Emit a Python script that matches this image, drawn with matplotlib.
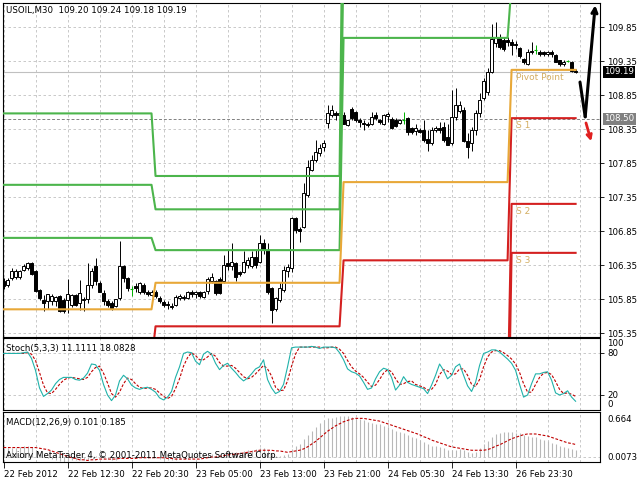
import matplotlib
matplotlib.use("Agg")
import matplotlib.pyplot as plt
import numpy as np

plt.rcParams['font.family'] = 'DejaVu Sans'

# ---- USOIL M30 bars (22 Feb 2012 .. 27 Feb 2012) ----
opens = [106.12, 106.06, 106.16, 106.18, 106.18, 106.28, 106.31, 106.38,
         106.26, 105.98, 105.84, 105.82, 105.82, 105.82, 105.89, 105.84,
         105.83, 105.77, 105.91, 105.79, 105.83, 105.85, 106.06, 106.33,
         106.08, 105.94, 105.82, 105.79, 105.75, 105.87, 106.33, 106.16,
         106.00, 106.04, 105.96, 106.06, 105.96, 105.91, 105.95, 105.86,
         105.81, 105.78, 105.75, 105.77, 105.87, 105.88, 105.87, 105.95,
         105.92, 105.95, 105.88, 105.97, 106.12, 106.11, 106.15, 106.11,
         106.38, 106.33, 106.38, 106.25, 106.25, 106.35, 106.33, 106.47,
         106.40, 106.67, 106.57, 106.01, 105.71, 105.84, 105.99, 106.27,
         106.30, 107.04, 106.88, 106.91, 107.38, 107.75, 107.89, 108.00,
         108.09, 108.44, 108.56, 108.58, 108.56, 108.56, 108.41, 108.65,
         108.60, 108.49, 108.44, 108.42, 108.43, 108.56, 108.49, 108.43,
         108.54, 108.50, 108.49, 108.44, 108.49, 108.51, 108.36, 108.32,
         108.34, 108.34, 108.20, 108.14, 108.34, 108.36, 108.38, 108.24,
         108.14, 108.53, 108.62, 108.63, 108.17, 108.14, 108.34, 108.58,
         108.80, 108.90, 109.19, 109.62, 109.70, 109.66, 109.66, 109.63,
         109.60, 109.54, 109.38, 109.31, 109.50, 109.51, 109.49, 109.48,
         109.45, 109.48, 109.44, 109.36, 109.30, 109.35, 109.34, 109.20]
highs = [106.16, 106.16, 106.31, 106.29, 106.28, 106.37, 106.40, 106.40,
         106.28, 106.00, 105.91, 105.93, 105.92, 105.90, 105.91, 105.87,
         106.14, 105.93, 105.93, 106.13, 105.88, 106.38, 106.30, 106.45,
         106.12, 105.98, 105.85, 105.82, 105.85, 106.70, 106.35, 106.18,
         106.05, 106.08, 106.10, 106.08, 105.98, 105.98, 105.98, 105.89,
         105.83, 105.82, 105.79, 105.91, 105.92, 105.91, 105.97, 105.98,
         105.97, 105.97, 105.97, 106.18, 106.23, 106.13, 106.18, 106.50,
         106.57, 106.67, 106.40, 106.27, 106.55, 106.47, 106.55, 106.57,
         106.79, 106.74, 106.67, 106.03, 105.88, 106.10, 106.33, 106.36,
         107.06, 107.06, 106.91, 107.56, 107.89, 107.97, 108.19, 108.13,
         108.19, 108.70, 108.70, 108.62, 108.60, 108.60, 108.49, 108.67,
         108.62, 108.51, 108.48, 108.45, 108.60, 108.60, 108.50, 108.57,
         108.60, 108.53, 108.51, 108.50, 108.60, 108.53, 108.38, 108.43,
         108.36, 108.48, 108.34, 108.38, 108.40, 108.46, 108.46, 108.43,
         108.92, 108.95, 108.76, 108.68, 108.29, 108.38, 108.63, 108.88,
         109.10, 109.25, 109.90, 109.93, 109.74, 109.70, 109.70, 109.68,
         109.65, 109.56, 109.40, 109.52, 109.63, 109.58, 109.51, 109.50,
         109.50, 109.51, 109.46, 109.37, 109.36, 109.37, 109.35, 109.24]
lows = [106.00, 106.03, 106.13, 106.14, 106.15, 106.27, 106.28, 106.20,
        105.96, 105.84, 105.67, 105.70, 105.77, 105.75, 105.66, 105.65,
        105.64, 105.73, 105.75, 105.69, 105.68, 105.79, 106.02, 106.06,
        105.96, 105.76, 105.74, 105.69, 105.73, 105.84, 106.10, 105.97,
        105.89, 105.95, 105.93, 105.92, 105.90, 105.89, 105.86, 105.80,
        105.73, 105.70, 105.70, 105.75, 105.83, 105.84, 105.85, 105.88,
        105.86, 105.87, 105.86, 105.93, 106.08, 105.91, 105.92, 106.08,
        106.28, 106.28, 106.11, 106.19, 106.23, 106.30, 106.30, 106.30,
        106.38, 106.52, 105.93, 105.50, 105.68, 105.81, 105.96, 106.18,
        106.25, 106.82, 106.69, 106.89, 107.35, 107.73, 107.87, 107.96,
        108.02, 108.37, 108.52, 108.48, 108.52, 108.42, 108.39, 108.49,
        108.46, 108.38, 108.34, 108.38, 108.41, 108.48, 108.43, 108.41,
        108.46, 108.35, 108.38, 108.42, 108.43, 108.26, 108.28, 108.26,
        108.29, 108.16, 108.02, 108.11, 108.30, 108.29, 108.16, 108.11,
        108.11, 108.48, 108.58, 108.16, 107.92, 108.02, 108.26, 108.53,
        108.78, 108.85, 109.17, 109.55, 109.52, 109.50, 109.57, 109.44,
        109.53, 109.40, 109.30, 109.29, 109.46, 109.46, 109.43, 109.43,
        109.43, 109.41, 109.33, 109.28, 109.28, 109.33, 109.19, 109.18]
closes = [106.04, 106.13, 106.27, 106.26, 106.27, 106.33, 106.38, 106.22,
          105.97, 105.86, 105.80, 105.92, 105.90, 105.88, 105.67, 105.67,
          105.92, 105.91, 105.77, 105.94, 105.85, 106.06, 106.26, 106.11,
          105.96, 105.82, 105.76, 105.72, 105.85, 106.33, 106.16, 106.01,
          106.00, 106.02, 106.08, 105.96, 105.92, 105.95, 105.89, 105.82,
          105.76, 105.76, 105.73, 105.88, 105.89, 105.86, 105.95, 105.92,
          105.95, 105.89, 105.96, 106.15, 106.18, 105.94, 105.94, 106.35,
          106.33, 106.40, 106.18, 106.22, 106.40, 106.42, 106.47, 106.35,
          106.67, 106.57, 105.96, 105.69, 105.86, 106.01, 106.28, 106.32,
          107.04, 106.87, 106.85, 107.41, 107.79, 107.89, 108.01, 108.07,
          108.14, 108.58, 108.63, 108.55, 108.58, 108.43, 108.48, 108.51,
          108.48, 108.46, 108.43, 108.41, 108.53, 108.51, 108.45, 108.55,
          108.57, 108.37, 108.40, 108.48, 108.49, 108.31, 108.31, 108.36,
          108.30, 108.19, 108.14, 108.34, 108.36, 108.34, 108.19, 108.12,
          108.53, 108.70, 108.70, 108.17, 108.09, 108.34, 108.58, 108.78,
          109.05, 109.19, 109.68, 109.70, 109.55, 109.52, 109.63, 109.58,
          109.59, 109.42, 109.33, 109.49, 109.49, 109.51, 109.45, 109.45,
          109.48, 109.45, 109.34, 109.30, 109.34, 109.35, 109.21, 109.19]

# ---- daily pivot levels ----
day_start = [0, 38, 85, 127]
pivot = [105.70, 106.09, 107.57, 109.22]
r1 = [106.75, 106.57, 109.69, 110.48]
r2 = [107.53, 107.17, 110.84, 111.19]
r3 = [108.58, 107.66, 112.96, 112.45]
s1 = [104.92, 105.45, 106.42, 108.51]
s2 = [103.87, 104.97, 104.30, 107.25]
s3 = [103.09, 104.33, 103.15, 106.53]

# ---- Stochastic(5,3,3) ----
stoch_main = [79, 79, 79, 79, 79, 80, 81, 72, 55, 30, 18, 22, 27, 36, 42, 45,
              45, 45, 42, 41, 44, 51, 64, 63, 55, 35, 20, 12, 20, 40, 48, 43,
              34, 30, 28, 30, 31, 28, 24, 16, 13, 17, 25, 45, 60, 79, 81, 80,
              68, 63, 78, 82, 78, 65, 56, 62, 65, 58, 52, 45, 40, 44, 50, 57,
              60, 70, 42, 30, 22, 25, 35, 60, 87, 88, 88, 88, 88, 89, 88, 86,
              88, 88, 88, 87, 80, 70, 57, 53, 51, 47, 38, 28, 30, 43, 53, 58,
              56, 45, 27, 34, 46, 38, 35, 33, 31, 29, 22, 34, 48, 64, 55, 43,
              48, 60, 64, 48, 33, 25, 38, 62, 79, 81, 84, 84, 81, 76, 71, 65,
              55, 35, 17, 20, 36, 50, 50, 52, 53, 41, 23, 20, 22, 26, 17, 11.11]
stoch_signal = [79, 79, 79, 79, 79, 79, 80, 78, 69, 52, 34, 23, 22, 28, 35, 41,
                44, 45, 44, 43, 42, 45, 53, 59, 61, 51, 37, 22, 17, 24, 36, 44,
                42, 36, 31, 29, 30, 30, 28, 23, 18, 15, 18, 29, 43, 61, 73, 80,
                76, 70, 70, 74, 79, 75, 66, 61, 61, 62, 58, 52, 46, 43, 45, 50,
                56, 62, 57, 47, 31, 26, 27, 40, 61, 78, 88, 88, 88, 88, 88, 88,
                87, 87, 88, 88, 85, 79, 69, 60, 54, 50, 45, 38, 32, 34, 42, 51,
                56, 53, 43, 35, 36, 39, 40, 35, 33, 31, 27, 28, 35, 49, 56, 54,
                49, 50, 57, 57, 48, 35, 32, 42, 60, 74, 81, 83, 83, 80, 76, 71,
                64, 52, 36, 24, 24, 35, 45, 51, 52, 49, 39, 28, 22, 23, 21, 18.08]

# ---- MACD(12,26,9) ----
macd_main = [0.14, 0.13, 0.13, 0.14, 0.15, 0.16, 0.16, 0.15, 0.10, 0.05, 0.01, -0.02, -0.03, -0.04, -0.06, -0.07,
             -0.06, -0.05, -0.05, -0.04, -0.04, -0.03, 0.00, 0.01, 0.00, -0.02, -0.03, -0.04, -0.04, -0.01, 0.00, 0.00,
             0.00, 0.00, 0.00, 0.00, -0.01, -0.01, -0.02, -0.03, -0.04, -0.05, -0.05, -0.04, -0.03, -0.02, -0.01, -0.01,
             0.00, 0.00, 0.01, 0.03, 0.04, 0.03, 0.03, 0.05, 0.06, 0.08, 0.08, 0.08, 0.09, 0.10, 0.11, 0.12,
             0.13, 0.14, 0.10, 0.04, 0.02, 0.01, 0.03, 0.05, 0.12, 0.16, 0.19, 0.26, 0.33, 0.39, 0.45, 0.50,
             0.55, 0.57, 0.58, 0.59, 0.60, 0.60, 0.60, 0.59, 0.58, 0.56, 0.54, 0.52, 0.50, 0.49, 0.48, 0.46,
             0.44, 0.42, 0.39, 0.37, 0.35, 0.33, 0.30, 0.28, 0.25, 0.22, 0.19, 0.17, 0.16, 0.15, 0.13, 0.11,
             0.10, 0.11, 0.12, 0.10, 0.07, 0.06, 0.08, 0.13, 0.19, 0.24, 0.30, 0.34, 0.36, 0.37, 0.37, 0.37,
             0.36, 0.35, 0.33, 0.31, 0.30, 0.29, 0.27, 0.25, 0.23, 0.21, 0.19, 0.17, 0.15, 0.13, 0.115, 0.101]
macd_signal = [0.14, 0.14, 0.14, 0.14, 0.14, 0.14, 0.14, 0.14, 0.14, 0.13, 0.12, 0.11, 0.09, 0.07, 0.05, 0.03,
               0.01, -0.01, -0.02, -0.04, -0.04, -0.05, -0.04, -0.04, -0.03, -0.03, -0.03, -0.03, -0.03, -0.02, -0.02, -0.02,
               -0.02, -0.02, -0.01, -0.01, -0.01, -0.01, -0.01, -0.01, -0.01, -0.02, -0.02, -0.03, -0.03, -0.03, -0.03, -0.03,
               -0.03, -0.03, -0.02, -0.01, 0.00, 0.00, 0.01, 0.02, 0.03, 0.04, 0.04, 0.05, 0.06, 0.07, 0.08, 0.09,
               0.10, 0.10, 0.10, 0.10, 0.09, 0.09, 0.08, 0.07, 0.08, 0.09, 0.10, 0.12, 0.15, 0.19, 0.23, 0.28,
               0.33, 0.38, 0.42, 0.46, 0.49, 0.52, 0.54, 0.56, 0.57, 0.57, 0.57, 0.56, 0.55, 0.54, 0.53, 0.51,
               0.49, 0.47, 0.45, 0.43, 0.41, 0.39, 0.37, 0.35, 0.33, 0.30, 0.28, 0.25, 0.23, 0.21, 0.19, 0.17,
               0.15, 0.14, 0.13, 0.12, 0.11, 0.10, 0.10, 0.10, 0.10, 0.11, 0.13, 0.16, 0.18, 0.21, 0.24, 0.27,
               0.29, 0.31, 0.33, 0.34, 0.34, 0.34, 0.33, 0.32, 0.31, 0.29, 0.27, 0.25, 0.23, 0.21, 0.20, 0.185]

time_ticks = [0, 16, 32, 48, 64, 80, 96, 112, 128]
time_labels = ['22 Feb 2012', '22 Feb 12:30', '22 Feb 20:30', '23 Feb 05:00', '23 Feb 13:00',
               '23 Feb 21:00', '24 Feb 05:30', '24 Feb 13:30', '26 Feb 23:30']
price_ticks = [105.35, 105.85, 106.35, 106.85, 107.35, 107.85, 108.35, 108.85, 109.35, 109.85]
bid = 109.19
level_line = 108.50

# hand drawn arrows on the chart (bar index, price)
black_arrow_x = [144.1, 145.4, 147.9]
black_arrow_y = [109.04, 108.53, 110.17]
red_arrow_x = [145.6, 146.9]
red_arrow_y = [108.44, 108.17]

W, H = 640, 480
FS = 6.2
GRID = '#c0c0c0'


def rect(top, bottom, left=3, right=600):
    return [left / W, 1 - bottom / H, (right - left) / W, (bottom - top) / H]


fig = plt.figure(figsize=(6.4, 4.8), dpi=100)
ax = fig.add_axes(rect(3, 337))
ax_st = fig.add_axes(rect(338, 410), sharex=ax)
ax_md = fig.add_axes(rect(412, 462), sharex=ax)

x = np.arange(len(closes))
o, h, l, c = map(np.array, (opens, highs, lows, closes))
xlim = (-0.125, 149.1)

for a in (ax, ax_st, ax_md):
    a.set_xlim(*xlim)
    for s in a.spines.values():
        s.set_linewidth(0.8)
        s.set_color('black')
    for t in range(0, 150, 8):
        a.axvline(t, color=GRID, lw=0.6, ls=(0, (3, 3)), zorder=0)
    a.yaxis.tick_right()
    a.tick_params(axis='y', labelsize=FS, length=3, width=0.6, pad=2)
    a.tick_params(axis='x', length=0, labelbottom=False)

# ---- main panel ----
ax.set_ylim(105.293, 110.203)
ax.set_yticks(price_ticks)
ax.set_yticklabels(['%.2f' % p for p in price_ticks])
for p in price_ticks:
    ax.axhline(p, color=GRID, lw=0.6, ls=(0, (3, 3)), zorder=0)
ax.axhline(bid, color=GRID, lw=0.8, zorder=1)
ax.axhline(level_line, color='#808080', lw=0.7, ls=(0, (3, 2)), zorder=1)

up, dn, dj = c > o, c < o, c == o
ax.vlines(x[~dj], l[~dj], h[~dj], color='black', lw=0.7, zorder=2)
ax.bar(x[up], (c - o)[up], bottom=o[up], width=0.7, facecolor='white',
       edgecolor='black', lw=0.7, zorder=3)
ax.bar(x[dn], (o - c)[dn], bottom=c[dn], width=0.7, facecolor='black',
       edgecolor='black', lw=0.7, zorder=3)
ax.vlines(x[dj], l[dj], h[dj], color='#00b000', lw=0.7, zorder=3)
ax.hlines(c[dj], x[dj] - 0.4, x[dj] + 0.4, color='#00b000', lw=0.8, zorder=3)

lengths = np.diff(day_start + [len(closes)])
for lev in (r3, r2, r1):
    ax.plot(x, np.repeat(lev, lengths), color='#4cb54c', lw=1.5, zorder=4)
for lev in (s1, s2, s3):
    ax.plot(x, np.repeat(lev, lengths), color='#d42020', lw=1.5, zorder=4)
ax.plot(x, np.repeat(pivot, lengths), color='#e8a838', lw=1.5, zorder=4)

lab_kw = dict(color='#d4ae62', fontsize=6.5, va='top', ha='left', zorder=5)
ax.text(day_start[3] + 1.2, pivot[3] - 0.04, 'Pivot Point', **lab_kw)
ax.text(day_start[3] + 1.2, s1[3] - 0.04, 'S 1', **lab_kw)
ax.text(day_start[3] + 1.2, s2[3] - 0.04, 'S 2', **lab_kw)
ax.text(day_start[3] + 1.2, s3[3] - 0.04, 'S 3', **lab_kw)

ax.plot(black_arrow_x[:2], black_arrow_y[:2], color='black', lw=2.2,
        solid_capstyle='round', zorder=6, clip_on=False)
ax.annotate('', xy=(black_arrow_x[2], black_arrow_y[2]),
            xytext=(black_arrow_x[1], black_arrow_y[1]),
            arrowprops=dict(arrowstyle='->', lw=2.2, color='black',
                            mutation_scale=9, shrinkA=0, shrinkB=0),
            annotation_clip=False, zorder=6)
ax.annotate('', xy=(red_arrow_x[1], red_arrow_y[1]),
            xytext=(red_arrow_x[0], red_arrow_y[0]),
            arrowprops=dict(arrowstyle='->', lw=2.0, color='#e02020',
                            mutation_scale=8, shrinkA=0, shrinkB=0),
            annotation_clip=False, zorder=6)

box = dict(boxstyle='square,pad=0.15', lw=0)
ax.text(1.007, bid, '%.2f' % bid, transform=ax.get_yaxis_transform(),
        fontsize=FS, color='white', va='center', ha='left',
        bbox=dict(box, fc='black'), zorder=7, clip_on=False)
ax.text(1.007, level_line, '%.2f' % level_line, transform=ax.get_yaxis_transform(),
        fontsize=FS, color='white', va='center', ha='left',
        bbox=dict(box, fc='#808080'), zorder=7, clip_on=False)

# ---- stochastic panel ----
ax_st.set_ylim(-1.3, 100.9)
ax_st.set_yticks([20, 80])
ax_st.set_yticklabels(['20', '80'])
for v in (20, 80):
    ax_st.axhline(v, color=GRID, lw=0.6, ls=(0, (3, 3)), zorder=0)
ax_st.plot(x, stoch_main, color='#20b2aa', lw=0.8, zorder=3)
ax_st.plot(x, stoch_signal, color='#c00000', lw=0.8, ls=(0, (2.5, 1.5)), zorder=2)
ax_st.text(1.012, 93.5, '100', transform=ax_st.get_yaxis_transform(), fontsize=FS,
           va='center', ha='left')
ax_st.text(1.012, 6.5, '0', transform=ax_st.get_yaxis_transform(), fontsize=FS,
           va='center', ha='left')

# ---- MACD panel ----
ax_md.set_ylim(-0.073, 0.664)
ax_md.set_yticks([])
ax_md.axhline(0, color=GRID, lw=0.6, ls=(0, (3, 3)), zorder=0)
ax_md.vlines(x, 0, macd_main, color='#b8b8b8', lw=0.8, zorder=2)
ax_md.plot(x, macd_signal, color='#c00000', lw=0.8, ls=(0, (2.5, 1.5)), zorder=3)
ax_md.text(1.012, 0.56, '0.664', transform=ax_md.get_yaxis_transform(), fontsize=FS,
           va='center', ha='left')
# zero and minimum labels sit on top of each other in the terminal
ax_md.text(1.012, 0.0, '0.0073', transform=ax_md.get_yaxis_transform(), fontsize=FS,
           va='center', ha='left')

ax_md.set_xticks(time_ticks)
ax_md.set_xticklabels(time_labels, ha='left')
ax_md.tick_params(axis='x', labelbottom=True, length=4, width=0.6, labelsize=FS,
                  pad=1.5)

# ---- captions ----
fig.text(6 / W, 1 - 10 / H, 'USOIL,M30  109.20 109.24 109.18 109.19', fontsize=FS,
         va='center', ha='left')
fig.text(6 / W, 1 - 348 / H, 'Stoch(5,3,3) 11.1111 18.0828', fontsize=FS,
         va='center', ha='left')
fig.text(6 / W, 1 - 423 / H, 'MACD(12,26,9) 0.101 0.185', fontsize=FS,
         va='center', ha='left')
fig.text(6 / W, 1 - 455 / H,
         'Axiory MetaTrader 4, \u00a9 2001-2011 MetaQuotes Software Corp.',
         fontsize=FS, va='center', ha='left')

fig.savefig('out.png', dpi=100)
